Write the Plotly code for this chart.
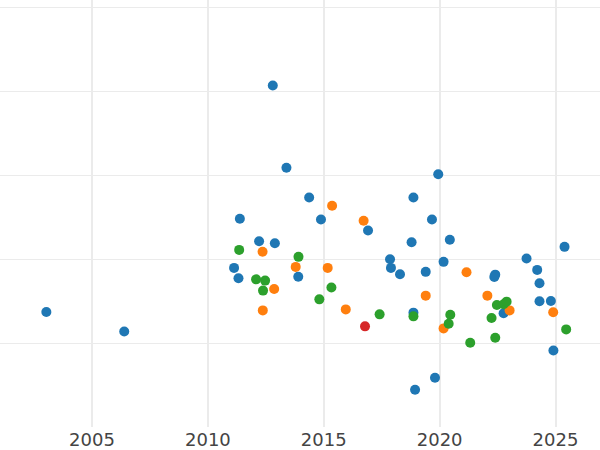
import plotly.graph_objects as go

blue_x = [2003.03, 2006.39, 2012.80, 2013.39, 2014.37, 2011.38, 2014.88, 2012.21, 2012.89,
          2011.13, 2011.32, 2013.90, 2016.91, 2018.87, 2019.94, 2019.67, 2018.79, 2020.44,
          2017.86, 2017.90, 2018.29, 2019.40, 2020.17, 2018.87, 2018.94, 2019.80, 2022.40,
          2022.36, 2023.75, 2024.21, 2024.31, 2024.31, 2024.80, 2025.39, 2024.91, 2022.76]
blue_y = [1.377, 1.146, 4.068, 3.092, 2.738, 2.485, 2.476, 2.218, 2.194,
          1.901, 1.777, 1.795, 2.345, 2.738, 3.015, 2.476, 2.206, 2.235,
          2.004, 1.901, 1.825, 1.854, 1.973, 1.369, 0.452, 0.595, 1.821,
          1.794, 2.012, 1.877, 1.718, 1.504, 1.508, 2.151, 0.920, 1.361]

orange_x = [2015.36, 2016.72, 2012.36, 2013.79, 2012.86, 2012.37, 2015.17, 2015.95,
            2019.40, 2020.17, 2021.16, 2022.06, 2023.02, 2024.90]
orange_y = [2.639, 2.461, 2.092, 1.913, 1.651, 1.396, 1.901, 1.408,
            1.571, 1.182, 1.849, 1.571, 1.396, 1.373]

green_x = [2011.35, 2013.91, 2012.08, 2012.47, 2012.38, 2014.81, 2015.33, 2017.41, 2018.87,
           2020.46, 2020.39, 2021.32, 2022.24, 2022.40, 2022.47, 2022.76, 2022.89, 2025.46]
green_y = [2.115, 2.032, 1.765, 1.750, 1.631, 1.527, 1.667, 1.349, 1.325,
           1.345, 1.238, 1.012, 1.306, 1.071, 1.461, 1.468, 1.500, 1.170]

red_x = [2016.78]
red_y = [1.206]

series = [
    (blue_x, blue_y, "#1f77b4"),
    (orange_x, orange_y, "#ff7f0e"),
    (green_x, green_y, "#2ca02c"),
    (red_x, red_y, "#d62728"),
]

fig = go.Figure()
for xs, ys, col in series:
    fig.add_trace(go.Scatter(x=xs, y=ys, mode="markers",
                             marker=dict(color=col, size=10, line=dict(width=0)),
                             showlegend=False))

fig.update_layout(
    width=600, height=450,
    margin=dict(l=0, r=0, t=0, b=23),
    paper_bgcolor="white", plot_bgcolor="white",
    font=dict(family="DejaVu Sans", size=18, color="#444"),
    xaxis=dict(range=[2001.03, 2026.92], tickvals=[2005, 2010, 2015, 2020, 2025],
               showgrid=True, gridcolor="#ebebeb", gridwidth=2, zeroline=False,
               showline=False, ticks="", automargin=False),
    yaxis=dict(range=[0.01, 5.085], dtick=1, tick0=0, showticklabels=False,
               showgrid=True, gridcolor="#ebebeb", gridwidth=1, zeroline=False,
               showline=False, ticks="", automargin=False),
)

fig.write_html("out.html", config={"displayModeBar": False},
               post_script="document.body.style.margin='0';")
